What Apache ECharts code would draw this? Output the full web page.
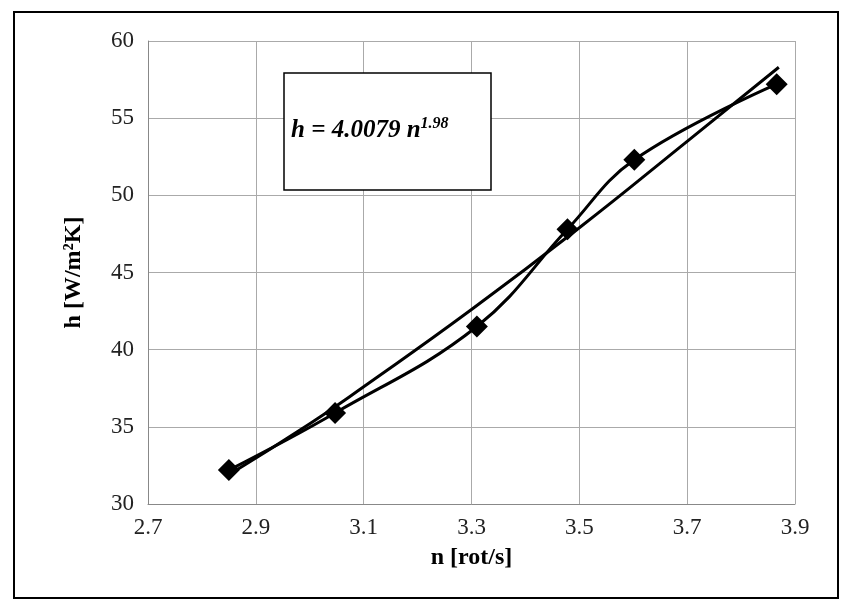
<!DOCTYPE html>
<html>
<head>
<meta charset="utf-8">
<script src="https://cdn.jsdelivr.net/npm/echarts@6/dist/echarts.min.js"></script>
<style>body{margin:0;background:#fff}</style>
</head>
<body>
<div id="main" style="width:853px;height:611px;"></div>
<script>
var nVals = [2.85, 3.047, 3.31, 3.478, 3.602, 3.866];
var hVals = [32.2, 35.9, 41.5, 47.8, 52.3, 57.2];
var fitN = [2.85, 3.0, 3.1, 3.3, 3.5, 3.7, 3.87];
var fitH = [31.9, 35.2, 37.6, 42.6, 47.9, 53.5, 58.3];
var font = 'Liberation Serif';

var chart = echarts.init(document.getElementById('main'));
chart.setOption({
  animation: false,
  grid: {left: 148, right: 58, top: 41, bottom: 107},
  xAxis: {
    type: 'value', min: 2.7, max: 3.9, interval: 0.2,
    name: 'n [rot/s]', nameLocation: 'middle', nameGap: 42,
    nameTextStyle: {fontFamily: font, fontSize: 24, fontWeight: 'bold', color: '#000'},
    axisLine: {lineStyle: {color: '#888'}}, axisTick: {show: false},
    axisLabel: {fontFamily: font, fontSize: 23, color: '#222', margin: 12, formatter: function (v) { return v.toFixed(1); }},
    splitLine: {lineStyle: {color: '#aaa'}}
  },
  yAxis: {
    type: 'value', min: 30, max: 60, interval: 5,
    name: 'h [W/m²K]', nameLocation: 'middle', nameGap: 62,
    nameTextStyle: {fontFamily: font, fontSize: 24, fontWeight: 'bold', color: '#000'},
    axisLine: {show: true, lineStyle: {color: '#888'}}, axisTick: {show: false},
    axisLabel: {fontFamily: font, fontSize: 23, color: '#222', margin: 14},
    splitLine: {lineStyle: {color: '#aaa'}}
  },
  graphic: [
    {type: 'rect', shape: {x: 14, y: 12, width: 824, height: 586}, style: {fill: 'none', stroke: '#000', lineWidth: 2}, silent: true},
    {type: 'rect', shape: {x: 284, y: 73, width: 207, height: 117}, style: {fill: '#fff', stroke: '#000', lineWidth: 1.5}, z: 10},
    {type: 'text', left: 291, top: 116, z: 11, style: {
      text: '{a|h = 4.0079 n}{s|1.98}',
      rich: {
        a: {fontFamily: font, fontSize: 25, fontStyle: 'italic', fontWeight: 'bold', fill: '#000'},
        s: {fontFamily: font, fontSize: 16, fontStyle: 'italic', fontWeight: 'bold', fill: '#000', verticalAlign: 'top', padding: [0, 0, 14, 0]}
      }
    }}
  ],
  series: [
    {type: 'line', data: fitN.map(function (n, i) { return [n, fitH[i]]; }), smooth: true, showSymbol: false,
     lineStyle: {color: '#000', width: 3}},
    {type: 'line', data: nVals.map(function (n, i) { return [n, hVals[i]]; }), smooth: 0.4,
     symbol: 'diamond', symbolSize: 22, itemStyle: {color: '#000'}, lineStyle: {color: '#000', width: 3}}
  ]
});
</script>
</body>
</html>
